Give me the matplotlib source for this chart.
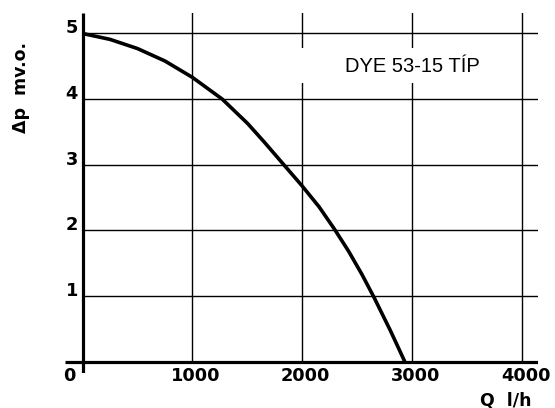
import matplotlib
matplotlib.use("Agg")
import matplotlib.pyplot as plt
from matplotlib.patches import Rectangle
from matplotlib.transforms import offset_copy

# pump curve
q = [0, 250, 500, 750, 1000, 1270, 1500, 1650, 1830, 2000, 2150, 2290,
     2420, 2540, 2650, 2800, 2930]
dp = [5.0, 4.91, 4.77, 4.58, 4.33, 4.0, 3.63, 3.35, 3.0, 2.67, 2.36, 2.02,
      1.68, 1.33, 0.98, 0.47, 0.0]

xticks = [0, 1000, 2000, 3000, 4000]
yticks = [1, 2, 3, 4, 5]
label = "DYE 53-15 TÍP"

fig = plt.figure(figsize=(5.55, 4.08), dpi=100)
ax = fig.add_axes([0.117, 0.0858, 0.852, 0.882])
ax.set_xlim(-160, 4140)
ax.set_ylim(-0.175, 5.31)
ax.axis("off")

# grid
for x in xticks[1:]:
    ax.plot([x, x], [0, 5.31], color="black", lw=1.0, zorder=1)
for y in yticks:
    ax.plot([0, 4140], [y, y], color="black", lw=1.0, zorder=1)

# white box behind the type label
ax.add_patch(Rectangle((1930, 4.25), 1860, 0.53, facecolor="white",
                       edgecolor="none", zorder=2))
ax.text(3000, 4.49, label, fontsize=14.5, family="Liberation Sans",
        ha="center", va="center", zorder=3)

# axes lines
ax.plot([-160, 4140], [0, 0], color="black", lw=2.3, zorder=4,
        solid_capstyle="butt")
ax.plot([0, 0], [-0.175, 5.31], color="black", lw=2.3, zorder=4,
        solid_capstyle="butt")

# curve
ax.plot(q, dp, color="black", lw=2.6, zorder=5, solid_capstyle="butt",
        solid_joinstyle="round")

# tick labels
tfont = dict(fontsize=12.8, fontweight="bold", family="DejaVu Sans")
up = offset_copy(ax.transData, fig=fig, x=0, y=5, units="dots")
for y in yticks:
    ax.text(-41, y, str(y), ha="right", va="center", transform=up,
            clip_on=False, **tfont)
for x in xticks:
    xx = -124 if x == 0 else x + 30
    ax.text(xx, -0.215, str(x), ha="center", va="center",
            clip_on=False, **tfont)

ax.text(3846, -0.59, "Q  l/h", ha="center", va="center", clip_on=False,
        fontsize=12.5, fontweight="bold", family="DejaVu Sans")
ax.text(-558, 4.17, "Δp  mv.o.", ha="center", va="center", rotation=90,
        clip_on=False, fontsize=12.5, fontweight="bold", family="DejaVu Sans")

fig.savefig("out.png", dpi=100)
